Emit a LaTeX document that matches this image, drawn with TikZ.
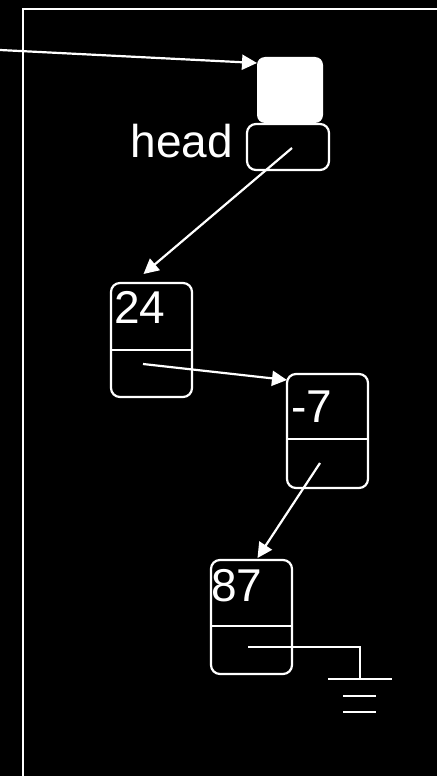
\documentclass[tikz,border=0pt]{standalone}
\usepackage{fontspec}
\setmainfont{Liberation Sans}
\usetikzlibrary{arrows.meta,calc}
\begin{document}
\begin{tikzpicture}[x=1pt,y=-1pt,
  wire/.style={draw=white,line width=2.2pt},
  ptr/.style={wire,-{Triangle[length=15pt,width=15pt]}},
  cell/.style={draw=white,line width=2.2pt,rounded corners=9pt,minimum width=81pt,
               minimum height=114pt,inner sep=0pt,outer sep=0pt,anchor=north west},
  val/.style={text=white,font=\fontsize{46}{50}\selectfont,anchor=base west,inner sep=0pt},
]
\useasboundingbox (0,0) rectangle (437,776);
\fill[black] (0,0) rectangle (437,776);

% enclosing frame (open to the right and bottom)
\draw[wire] (23,776) -- (23,9) -- (437,9);

% head variable: value part and pointer part
\node[fill=white,rounded corners=8pt,minimum width=66pt,minimum height=66pt,
      inner sep=0pt,outer sep=0pt,anchor=north west] (hval) at (257,57) {};
\node[cell,minimum width=82pt,minimum height=46pt] (head) at (247,124) {};
\node[text=white,font=\fontsize{46}{50}\selectfont,anchor=base east,inner sep=0pt]
      (hlabel) at (233,157) {head};

% list cells
\node[cell] (n24) at (111,283) {};
\node[cell] (n7)  at (287,374) {};
\node[cell] (n87) at (211,560) {};

\draw[wire] ($(n24.north west)+(0,67)$) -- ($(n24.north east)+(0,67)$);
\draw[wire] ($(n7.north west)+(0,65)$)  -- ($(n7.north east)+(0,65)$);
\draw[wire] ($(n87.north west)+(0,66)$) -- ($(n87.north east)+(0,66)$);

\node[val] (v24) at (114,323) {24};
\node[val] (v7)  at (291,422) {-7};
\node[val] (v87) at (211,601) {87};

% pointers
\coordinate (src) at (0,50);
\coordinate (hp)  at (292,148);
\coordinate (p24) at (143,364);
\coordinate (p7)  at (320,463);
\coordinate (p87) at (248,647);

\draw[ptr] (src) -- ($(hval.north west)+(0,6)$);
\draw[ptr] (hp)  -- ($(n24.north)+(-8,-9)$);
\draw[ptr] (p24) -- ($(n7.north west)+(0,6)$);
\draw[ptr] (p7)  -- ($(n87.north)+(6,-2)$);

% null pointer to ground
\coordinate (gnd) at (360,679);
\draw[wire] (p87) -| (gnd);
\draw[wire] ($(gnd)+(-32,0)$) -- ($(gnd)+(32,0)$);
\draw[wire] ($(gnd)+(-17,17)$) -- ($(gnd)+(16,17)$);
\draw[wire] ($(gnd)+(-17,33)$) -- ($(gnd)+(16,33)$);
\end{tikzpicture}
\end{document}
